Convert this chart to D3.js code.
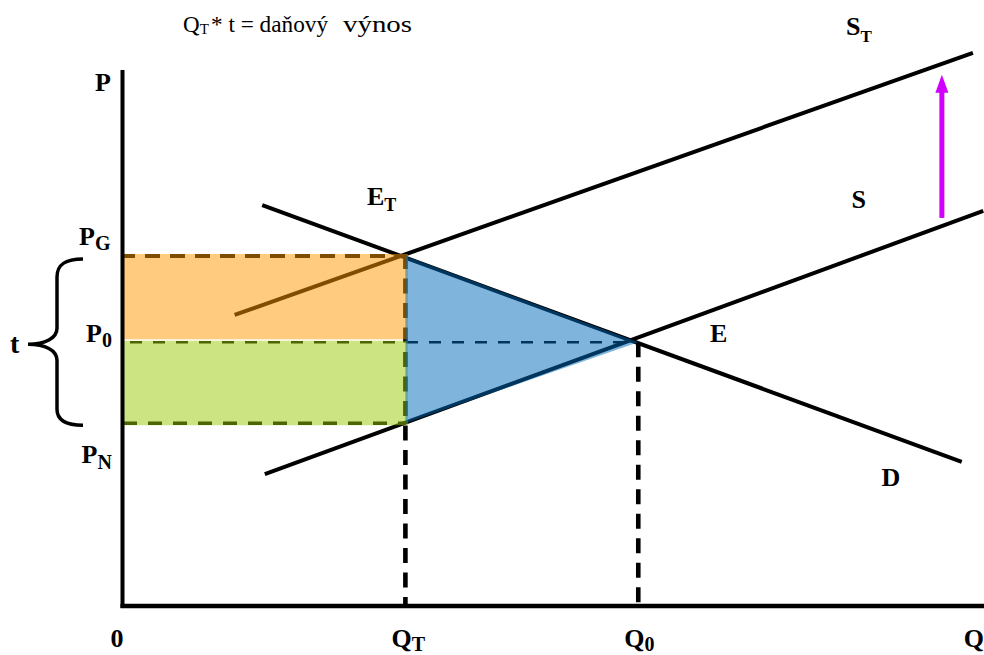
<!DOCTYPE html>
<html><head><meta charset="utf-8">
<script src="https://cdn.jsdelivr.net/npm/d3@7"></script>
<style>
html,body{margin:0;padding:0;background:#fff;}
svg{display:block;}
svg text{font-family:"Liberation Serif","Times New Roman",Times,serif;fill:#000;}
</style>
</head><body>
<svg id="chart" width="984" height="655" font-family="'Liberation Serif', 'Times New Roman', Times, serif"></svg>
<script>
// ---------- data (chart units: Q horizontal, P vertical) ----------
const Q_T = 32.8, Q_0 = 59.8, Q_MAX = 100;
const P_G = 65.3, P_0 = 49.2, P_N = 34.1, P_MAX = 100;
const demandD  = [[16.2, 74.8], [97.3, 26.9]];
const supplyS  = [[16.5, 24.6], [99.8, 73.7]];
const supplyST = [[13.0, 54.3], [98.6, 103.2]];
const taxShift = [[95.0, 72.4], [95.0, 99.1]];
const qTickValues = [0, Q_T, Q_0, Q_MAX];
const qTickLabels = [["0", ""], ["Q", "T"], ["Q", "0"], ["Q", ""]];
const pTickValues = [P_G, P_0, P_N];
const pTickLabels = [["P", "G"], ["P", "0"], ["P", "N"]];
const axisLabelP = "P";
const curveLabels = [["S", "T"], ["E", "T"], ["S", ""], ["E", ""], ["D", ""]];
const taxLabel = "t";
const titleParts = ["Q", "T", "* t = daňový", "výnos"];

// ---------- layout ----------
const FONT = "'Liberation Serif', 'Times New Roman', Times, serif";
const svg = d3.select("#chart");
const x = d3.scaleLinear().domain([0, Q_MAX]).range([122.5, 985]);
const y = d3.scaleLinear().domain([0, P_MAX]).range([606, 70]);
const line = d3.line().x(d => x(d[0])).y(d => y(d[1]));

// curves
[demandD, supplyS, supplyST].forEach(pts => {
  svg.append("path").attr("d", line(pts))
    .attr("fill", "none").attr("stroke", "#000")
    .attr("stroke-width", 4).attr("stroke-linecap", "butt");
});

// dashed guide lines
const dashes = [
  {pts: [[0, P_G], [Q_T, P_G]], w: 4, da: "15 10", off: 2.5},
  {pts: [[0, P_0], [Q_0, P_0]], w: 2.6, da: "12 11", off: 15.5},
  {pts: [[0, P_N], [Q_T, P_N]], w: 3.6, da: "14 11", off: 24.5},
  {pts: [[Q_T, P_G], [Q_T, 0]], w: 4.6, da: "15 9.5", off: 2},
  {pts: [[Q_0, P_0], [Q_0, 0]], w: 4.6, da: "15 9.5", off: 0}
];
dashes.forEach(d => {
  svg.append("path").attr("d", line(d.pts))
    .attr("fill", "none").attr("stroke", "#000")
    .attr("stroke-width", d.w).attr("stroke-dasharray", d.da)
    .attr("stroke-dashoffset", d.off);
});

// translucent areas
svg.append("rect")
  .attr("x", x(0)).attr("y", y(P_G) - 2)
  .attr("width", x(Q_T) + 2.5 - x(0)).attr("height", y(P_0) - 3 - (y(P_G) - 2))
  .attr("fill", "#FD9700").attr("fill-opacity", 0.5);
svg.append("rect")
  .attr("x", x(0)).attr("y", y(P_0) - 1.5)
  .attr("width", x(Q_T) + 2.5 - x(0)).attr("height", y(P_N) + 2 - (y(P_0) - 1.5))
  .attr("fill", "#9BC905").attr("fill-opacity", 0.5);
svg.append("path")
  .attr("d", line([[Q_T, P_G], [Q_0, P_0], [Q_T, P_N]]) + "Z")
  .attr("fill", "#006BB9").attr("fill-opacity", 0.5);

// axes
svg.append("line").attr("x1", x(0)).attr("x2", x(0))
  .attr("y1", y(P_MAX)).attr("y2", y(0) + 2)
  .attr("stroke", "#000").attr("stroke-width", 4);
svg.append("line").attr("x1", x(0) - 2).attr("x2", x(Q_MAX))
  .attr("y1", y(0)).attr("y2", y(0))
  .attr("stroke", "#000").attr("stroke-width", 4.6);

// tax shift arrow
const ax = x(taxShift[0][0]);
svg.append("line").attr("x1", ax).attr("x2", ax)
  .attr("y1", y(taxShift[0][1])).attr("y2", y(taxShift[1][1]) + 16)
  .attr("stroke", "#D000FF").attr("stroke-width", 5);
svg.append("path")
  .attr("d", `M${ax},${y(taxShift[1][1])} L${ax - 6.5},${y(taxShift[1][1]) + 18} L${ax + 6.5},${y(taxShift[1][1]) + 18} Z`)
  .attr("fill", "#D000FF");

// brace for t
const bt = y(P_G) + 3, bb = y(P_N) + 2, bm = y(P_0) + 2;
const bp = d3.path();
bp.moveTo(83, bt);
bp.bezierCurveTo(66, bt, 57, bt + 5, 57, bt + 18);
bp.lineTo(57, bm - 16);
bp.bezierCurveTo(57, bm - 6, 45, bm, 28, bm);
bp.bezierCurveTo(45, bm, 57, bm + 6, 57, bm + 16);
bp.lineTo(57, bb - 16);
bp.bezierCurveTo(57, bb - 5, 66, bb, 83, bb);
svg.append("path").attr("d", bp.toString())
  .attr("fill", "none").attr("stroke", "#000").attr("stroke-width", 3.5);

// label helper
function label(px, py, main, sub, size, subSize, subDy, anchor) {
  const t = svg.append("text").attr("x", px).attr("y", py)
    .attr("font-family", FONT)
    .attr("font-weight", "bold").attr("font-size", size)
    .attr("text-anchor", anchor || "start");
  t.append("tspan").text(main);
  if (sub) t.append("tspan").attr("font-size", subSize).attr("dy", subDy).text(sub);
  return t;
}

// axis P label
label(95, 91, axisLabelP, "", 26);

// P tick labels
const pLabelX = [79, 86, 81.5];
const pLabelDy = [-11, -0.5, 40];
pTickValues.forEach((v, i) => {
  label(pLabelX[i], y(v) + pLabelDy[i], pTickLabels[i][0], pTickLabels[i][1], 26, 20, 5.5);
});

// Q tick labels
const qLabelDx = [-12, -14, -14, 0];
qTickValues.forEach((v, i) => {
  label(i === 3 ? 984 : x(v) + qLabelDx[i], 647, qTickLabels[i][0], qTickLabels[i][1], 26, 20, 3.5, i === 3 ? "end" : "start");
});

// curve labels
const curvePos = [[846, 35, 17, 7], [367, 205, 18, 5.5], [851.5, 208], [710, 342], [881.5, 486]];
curveLabels.forEach((l, i) => {
  const p = curvePos[i];
  label(p[0], p[1], l[0], l[1], 26, p[2] || 18, p[3] || 5);
});

// t label
label(10, 353, taxLabel, "", 28);

// title
const tt = svg.append("text").attr("x", 183).attr("y", 31.5)
  .attr("font-family", FONT).attr("font-size", 23);
tt.append("tspan").text(titleParts[0]);
tt.append("tspan").attr("font-size", 15).attr("dy", 2).text(titleParts[1]);
svg.append("text").attr("x", 211).attr("y", 31.5).attr("font-family", FONT).attr("font-size", 23)
  .attr("textLength", 117).attr("lengthAdjust", "spacingAndGlyphs").text(titleParts[2]);
svg.append("text").attr("x", 343).attr("y", 31.5).attr("font-family", FONT).attr("font-size", 23)
  .attr("textLength", 69).attr("lengthAdjust", "spacingAndGlyphs").text(titleParts[3]);
</script>
</body></html>
